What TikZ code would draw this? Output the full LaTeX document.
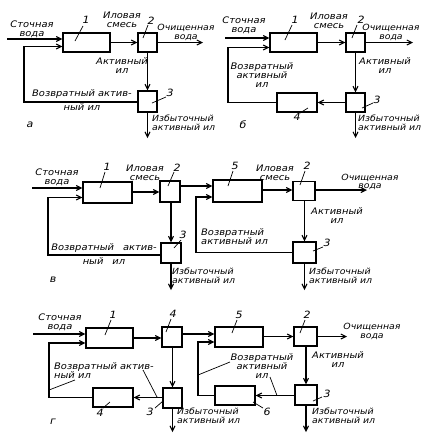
\documentclass[tikz,border=0pt]{standalone}
\usepackage{fontspec}
\setmainfont{DejaVu Sans}[FakeStretch=1.1]
\usetikzlibrary{arrows.meta}
\begin{document}
\begin{tikzpicture}[x=1pt,y=-1pt,
  box/.style={draw, line width=1.2pt, minimum width=#1, minimum height=20pt, inner sep=0pt},
  box/.default=20pt,
  flow/.style={line width=1.3pt},
  arr/.style={flow, -{Straight Barb[length=5pt,width=5pt,line width=1.1pt]}},
  lead/.style={line width=0.7pt},
  lbl/.style={font=\fontsize{9}{9}\selectfont\itshape, inner sep=0pt, align=center},
  lbls/.style={lbl, font=\fontsize{8.5}{8.8}\selectfont\itshape},
  lbll/.style={lbls, align=left, anchor=north west},
  num/.style={font=\fontsize{10}{10}\selectfont\itshape, inner sep=0pt}]
\useasboundingbox (0,0) rectangle (422,437);

% ================= panel a =================
\node[box=47pt, minimum height=19pt] (b1a) at (86.5,42.5) {};
\node[box=19pt, minimum height=19pt] (b2a) at (147.5,42.5) {};
\node[box=19pt, minimum height=21pt] (b3a) at (147.5,101.5) {};
\coordinate (ina) at (7,39);
\coordinate (ra) at (24,102);
\coordinate (ra2) at (24,46.5);
\coordinate (outa) at (203,42.5);
\coordinate (exa) at (147.5,138);
\draw[arr] (ina) -- (ina -| b1a.west);
\draw[arr] (ra -| b3a.west) -- (ra) -- (ra2) -- (ra2 -| b1a.west);
\draw[arr] (b1a.east) -- (b2a.west);
\draw[arr] (b2a.east) -- (outa);
\draw[arr] (b2a.south) -- (b3a.north);
\draw[arr] (b3a.south) -- (exa);
\node[lbl] (ta1) at (32,29) {Сточная\\вода};
\node[lbl] (ta2) at (122,20) {Иловая\\смесь};
\node[lbls] (ta3) at (186,32.5) {Очищенная\\вода};
\node[lbl] (ta4) at (122,66) {Активный\\ил};
\node[lbl] (ta5) at (82,100.5) {Возвратный актив-\\[5pt]ный ил};
\node[lbll] (ta6) at (152,115) {Избыточный\\активный ил};
\node[num] (na1) at (86,20) {1};
\node[num] (na2) at (151,21) {2};
\node[num] (na3) at (170,93) {3};
\node[num] (pa) at (30,125) {а};
\draw[lead] (83,26) -- (75,41);
\draw[lead] (148,25) -- (143,38);
\draw[lead] (166,97) -- (152,103);

% ================= panel b =================
\node[box=47pt, minimum height=19pt] (b1b) at (293.5,42.5) {};
\node[box=19pt, minimum height=19pt] (b2b) at (355.5,42.5) {};
\node[box=19pt, minimum height=19pt] (b3b) at (355.5,102.5) {};
\node[box=40pt, minimum height=19pt] (b4b) at (297,102.5) {};
\coordinate (inb) at (225,38);
\coordinate (rb) at (228,102.5);
\coordinate (rb2) at (228,47.5);
\coordinate (outb) at (413,42.5);
\coordinate (exb) at (355.5,138);
\draw[arr] (inb) -- (inb -| b1b.west);
\draw[arr] (b4b.west) -- (rb) -- (rb2) -- (rb2 -| b1b.west);
\draw[arr] (b1b.east) -- (b2b.west);
\draw[arr] (b2b.east) -- (outb);
\draw[arr] (b2b.south) -- (b3b.north);
\draw[arr] (b3b.west) -- (b4b.east);
\draw[arr] (b3b.south) -- (exb);
\node[lbl] (tb1) at (244,25) {Сточная\\вода};
\node[lbl] (tb2) at (329,21) {Иловая\\смесь};
\node[lbls] (tb3) at (391,32.5) {Очищенная\\вода};
\node[lbl] (tb4) at (385,66) {Активный\\ил};
\node[lbl] (tb5) at (262,75) {Возвратный\\активный\\ил};
\node[lbll] (tb6) at (358,115) {Избыточный\\активный ил};
\node[num] (nb1) at (295,20) {1};
\node[num] (nb2) at (361,20) {2};
\node[num] (nb3) at (377,100) {3};
\node[num] (nb4) at (297,117) {4};
\node[num] (pb) at (243,125) {б};
\draw[lead] (292,25) -- (285,40);
\draw[lead] (357,25) -- (352,38);
\draw[lead] (373,103) -- (362,108);
\draw[lead] (300,113) -- (308,108);

% ================= panel v =================
\node[box=49pt, minimum height=21pt] (b1c) at (107.5,192.5) {};
\node[box=20pt, minimum height=21pt] (b2c) at (170,191.5) {};
\node[box=20pt, minimum height=20pt] (b3c) at (171,253) {};
\node[box=49pt, minimum height=22pt] (b5c) at (237.5,191) {};
\node[box=22pt, minimum height=19pt] (b2c2) at (304,191) {};
\node[box=23pt, minimum height=21pt] (b3c2) at (304.5,252.5) {};
\coordinate (inc) at (32,188);
\coordinate (rc) at (48,255);
\coordinate (rc2) at (48,197.5);
\coordinate (mc) at (170,186);
\coordinate (rc3) at (196,252.5);
\coordinate (rc4) at (196,197);
\coordinate (outc) at (367,190);
\coordinate (exc) at (171,290);
\coordinate (exc2) at (304.5,290);
\draw[arr] (inc) -- (inc -| b1c.west);
\draw[arr] (rc -| b3c.west) -- (rc) -- (rc2) -- (rc2 -| b1c.west);
\draw[arr] (b1c.east |- 0,192) -- (b2c.west |- 0,192);
\draw[arr] (mc -| b2c.east) -- (mc -| b5c.west);
\draw[arr] (b3c2.west) -- (rc3) -- (rc4) -- (rc4 -| b5c.west);
\draw[arr] (b5c.east |- 0,190) -- (b2c2.west |- 0,190);
\draw[arr] (b2c2.east |- 0,190) -- (outc);
\draw[arr] (b2c.south -| 171,0) -- (b3c.north);
\draw[arr] (b2c2.south -| b3c2.north) -- (b3c2.north);
\draw[arr] (b3c.south) -- (exc);
\draw[arr] (b3c2.south) -- (exc2);
\node[lbl] (tc1) at (57,177.5) {Сточная\\вода};
\node[lbl] (tc2) at (145,172.5) {Иловая\\смесь};
\node[lbl] (tc5) at (104,254) {Возвратный\quad актив-\\[5pt]ный\quad ил};
\node[lbll] (tc6) at (172,268) {Избыточный\\активный ил};
\node[lbl] (tc7) at (275,172.5) {Иловая\\смесь};
\node[lbls] (tc3) at (370,182) {Очищенная\\вода};
\node[lbl] (tc4) at (337,216) {Активный\\ил};
\node[lbl, align=left, anchor=north west] (tc8) at (201,228) {Возвратный\\активный ил};
\node[lbll] (tc9) at (309,268) {Избыточный\\активный ил};
\node[num] (nc1) at (107,167) {1};
\node[num] (nc2) at (177,168) {2};
\node[num] (nc3) at (183,235) {3};
\node[num] (nc5) at (235,166) {5};
\node[num] (nc6) at (307,166) {2};
\node[num] (nc7) at (327,243) {3};
\node[num] (pc) at (53,280) {в};
\draw[lead] (105,172) -- (100,188);
\draw[lead] (174,172) -- (168,186);
\draw[lead] (181,240) -- (174,248);
\draw[lead] (233,171) -- (228,186);
\draw[lead] (305,171) -- (300,185);
\draw[lead] (323,247) -- (313,251);

% ================= panel g =================
\node[box=47pt, minimum height=20pt] (b1d) at (109.5,338) {};
\node[box=20pt, minimum height=20pt] (b4d) at (172,337) {};
\node[box=19pt, minimum height=20pt] (b3d) at (172.5,398) {};
\node[box=40pt, minimum height=19pt] (b4d2) at (113,397.5) {};
\node[box=48pt, minimum height=20pt] (b5d) at (239,337) {};
\node[box=40pt, minimum height=19pt] (b6d) at (235,395.5) {};
\node[box=23pt, minimum height=19pt] (b2d) at (305.5,336.5) {};
\node[box=22pt, minimum height=20pt] (b3d2) at (306,395) {};
\coordinate (ind) at (33,334);
\coordinate (rd) at (49,397.5);
\coordinate (rd2) at (49,343);
\coordinate (md) at (172,334);
\coordinate (rd3) at (198,395.5);
\coordinate (rd4) at (198,342);
\coordinate (outd) at (347,336.5);
\coordinate (exd) at (172.5,432);
\coordinate (exd2) at (306,432);
\draw[arr] (ind) -- (ind -| b1d.west);
\draw[arr] (b4d2.west) -- (rd) -- (rd2) -- (rd2 -| b1d.west);
\draw[arr] (b1d.east |- 0,338) -- (b4d.west |- 0,338);
\draw[arr] (md -| b4d.east) -- (md -| b5d.west);
\draw[arr] (b6d.west) -- (rd3) -- (rd4) -- (rd4 -| b5d.west);
\draw[arr] (b4d.south -| b3d.north) -- (b3d.north);
\draw[arr] (b3d.west |- b4d2.east) -- (b4d2.east);
\draw[arr] (b3d.south) -- (exd);
\draw[arr] (b5d.east |- b2d.west) -- (b2d.west);
\draw[arr] (b2d.east) -- (outd);
\draw[arr] (b2d.south -| b3d2.north) -- (b3d2.north);
\draw[arr] (b3d2.west |- b6d.east) -- (b6d.east);
\draw[arr] (b3d2.south) -- (exd2);
\node[lbl] (td1) at (60,322.5) {Сточная\\вода};
\node[lbl, align=left, anchor=north west] (td5) at (54,362) {Возвратный актив-\\ный ил};
\node[lbll] (td6) at (177,408) {Избыточный\\активный ил};
\node[lbls] (td3) at (372,331.5) {Очищенная\\вода};
\node[lbl] (td4) at (338,359.5) {Активный\\ил};
\node[lbl] (td7) at (262,366) {Возвратный\\активный\\ил};
\node[lbll] (td8) at (312,408) {Избыточный\\активный ил};
\node[num] (nd1) at (113,315) {1};
\node[num] (nd4) at (173,314) {4};
\node[num] (nd3) at (150,412) {3};
\node[num] (nd42) at (100,413) {4};
\node[num] (nd5) at (239,315) {5};
\node[num] (nd2) at (307,315) {2};
\node[num] (nd32) at (327,394) {3};
\node[num] (nd6) at (267,412) {6};
\node[num] (pd) at (53,422) {г};
\draw[lead] (111,320) -- (105,335);
\draw[lead] (171,319) -- (166,332);
\draw[lead] (75,380) -- (49,390);
\draw[lead] (143,370) -- (157,397);
\draw[lead] (155,408) -- (163,401);
\draw[lead] (103,408) -- (110,402);
\draw[lead] (237,320) -- (232,333);
\draw[lead] (305,320) -- (300,333);
\draw[lead] (230,362) -- (198,375);
\draw[lead] (270,377) -- (277,395.5);
\draw[lead] (322,397) -- (313,401);
\draw[lead] (263,408) -- (253,402);
\end{tikzpicture}
\end{document}
